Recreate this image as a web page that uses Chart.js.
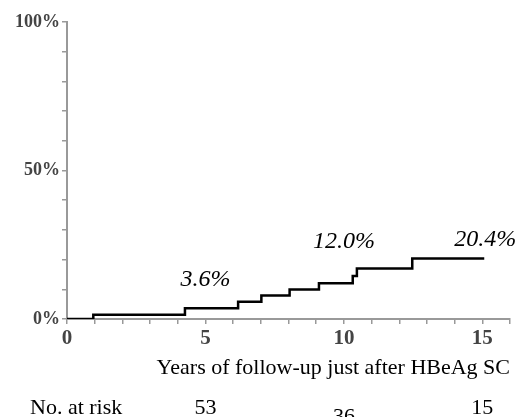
<!DOCTYPE html>
<html lang="en">
<head>
  <meta charset="UTF-8">
  <title>Cumulative incidence after HBeAg SC</title>
  <script src="https://cdn.jsdelivr.net/npm/chart.js"></script>
  <style>
    html, body { margin: 0; padding: 0; background: #fff; }
    #wrap { width: 520px; height: 417px; }
  </style>
</head>
<body>
  <div id="wrap"><canvas id="chart" width="520" height="417"></canvas></div>

  <script>
    // event times (years) and cumulative incidence (%) of the step curve
    const years = [0, 0.95, 4.26, 6.18, 7.02, 8.04, 9.10, 10.32, 10.47, 12.47, 15.07];
    const pct   = [0, 1.4, 3.6, 5.8, 7.9, 9.9, 12.0, 14.5, 17.0, 20.4, 20.4];

    // percentages written above the curve
    const noteYears = [5, 10, 15];
    const noteText  = ['3.6%', '12.0%', '20.4%'];

    // number at risk row
    const riskYears  = [5, 10, 15];
    const riskCounts = [53, 36, 15];

    const xTitle = 'Years of follow-up just after HBeAg SC';
    const serif = '"Liberation Serif", "Times New Roman", serif';
    const axisGray = '#999';

    const points = years.map((x, i) => ({ x: x, y: pct[i] }));

    // texts drawn on the canvas: notes and the at-risk table
    const extraText = {
      id: 'extraText',
      afterDraw(chart) {
        const ctx = chart.ctx;
        const xs = chart.scales.x;
        ctx.save();
        ctx.fillStyle = '#000';
        ctx.textAlign = 'center';
        ctx.textBaseline = 'alphabetic';

        // notes: pixel baselines above the curve
        const noteBase = [286, 248, 246];
        ctx.font = 'italic 24px ' + serif;
        noteText.forEach((t, i) => {
          ctx.fillText(t, xs.getPixelForValue(noteYears[i]) + (i === 2 ? 3 : 0), noteBase[i]);
        });

        // number at risk
        ctx.font = '22px ' + serif;
        ctx.textAlign = 'left';
        ctx.fillText('No. at risk', 30, 414);
        ctx.textAlign = 'center';
        const riskBase = [414, 423, 414];
        riskCounts.forEach((n, i) => {
          ctx.fillText(String(n), xs.getPixelForValue(riskYears[i]), riskBase[i]);
        });
        ctx.restore();
      }
    };

    new Chart(document.getElementById('chart').getContext('2d'), {
      type: 'line',
      data: {
        datasets: [{
          data: points,
          stepped: true,
          borderColor: '#000',
          borderWidth: 2.5,
          pointRadius: 0,
          fill: false
        }]
      },
      options: {
        responsive: false,
        animation: false,
        layout: { padding: { top: 22, right: 10, left: 0, bottom: 0 } },
        plugins: { legend: { display: false }, tooltip: { enabled: false } },
        scales: {
          x: {
            type: 'linear',
            min: 0,
            max: 16,
            afterFit(scale) { scale.height = 98; },
            ticks: {
              stepSize: 1,
              autoSkip: false,
              maxRotation: 0,
              padding: 2,
              color: '#444',
              font: { family: serif, size: 21, weight: 'bold' },
              callback: v => (v % 5 === 0 && v <= 15) ? String(v) : ''
            },
            grid: { drawOnChartArea: false, tickLength: 5, color: axisGray, lineWidth: 1.5 },
            border: { color: axisGray, width: 2 },
            title: {
              display: true,
              text: xTitle,
              align: 'end',
              color: '#000',
              font: { family: serif, size: 22, lineHeight: 1.2 },
              padding: { top: 0, bottom: 36 }
            }
          },
          y: {
            min: 0,
            max: 100,
            afterFit(scale) { scale.width = 67; },
            ticks: {
              stepSize: 10,
              autoSkip: false,
              padding: 2,
              color: '#444',
              font: { family: serif, size: 18, weight: 'bold' },
              callback: v => (v % 50 === 0) ? v + '%' : ''
            },
            grid: { drawOnChartArea: false, tickLength: 5, color: axisGray, lineWidth: 1.5 },
            border: { color: axisGray, width: 2 }
          }
        }
      },
      plugins: [extraText]
    });
  </script>
</body>
</html>
